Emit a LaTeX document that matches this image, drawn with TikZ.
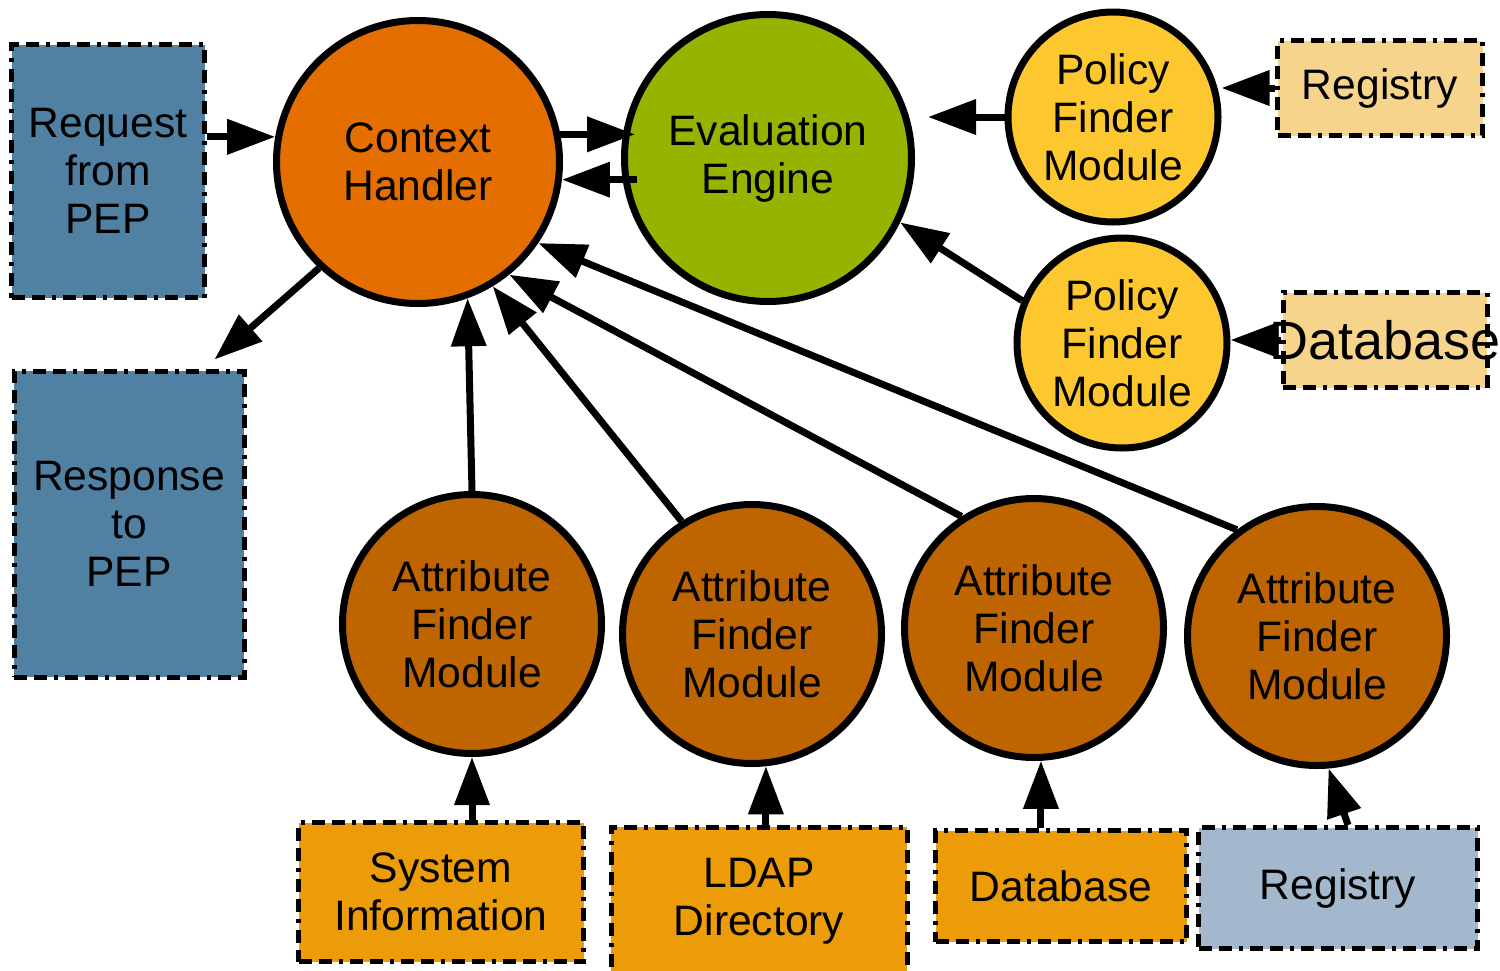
\documentclass[tikz,border=0pt]{standalone}
\usepackage{fontspec}
\setmainfont{Liberation Sans}
\usetikzlibrary{arrows.meta,calc}
\definecolor{pdpSteel}{HTML}{5181A2}
\definecolor{pdpOrange}{HTML}{E56E00}
\definecolor{pdpOlive}{HTML}{96B300}
\definecolor{pdpGold}{HTML}{FDC82F}
\definecolor{pdpSand}{HTML}{F7D48B}
\definecolor{pdpRust}{HTML}{BE6400}
\definecolor{pdpAmber}{HTML}{EC9C09}
\definecolor{pdpSlate}{HTML}{A3B8CC}
\tikzset{
  >={Triangle[length=24pt,width=17pt]},
  lbl/.style={font=\fontsize{21.3}{24}\selectfont, align=center, text=black},
  unit/.style={circle, draw=black, line width=3.5pt, inner sep=0pt, lbl},
  handler/.style={unit, fill=pdpOrange, minimum size=141.5pt},
  engine/.style={unit, fill=pdpOlive, minimum size=143.5pt},
  pfinder/.style={unit, fill=pdpGold, minimum size=105pt},
  afinder/.style={unit, fill=pdpRust, minimum size=129.5pt},
  store/.style={rectangle, draw=black, line width=2.5pt, inner sep=0pt, lbl,
              dash pattern=on 6.5pt off 3.5pt on 6.5pt off 3.5pt on 2pt off 3.5pt},
  pep/.style={store, fill=pdpSteel},
  link/.style={->, line width=3.5pt},
}

\begin{document}
\begin{tikzpicture}[x=0.5pt,y=-0.5pt]
  \useasboundingbox (0,0) rectangle (1500,970);
  % PEP side
  \node[pep,minimum width=96.5pt,minimum height=126.5pt] (req) at (108,171)
    {Request\\from\\PEP};
  \node[pep,minimum width=115pt,minimum height=153pt] (resp) at (129,524)
    {Response\\to\\PEP};
  % PDP core
  \node[handler] (ch) at (418,162) {Context\\Handler};
  \node[engine] (ev) at (768,158) {Evaluation\\Engine};
  \node[pfinder] (pf1) at (1113,117) {Policy\\Finder\\Module};
  \node[pfinder] (pf2) at (1122,343) {Policy\\Finder\\Module};
  \node[store,fill=pdpSand,minimum width=102.5pt,minimum height=47.5pt] (reg1) at (1380,88)
    {Registry};
  \node[store,fill=pdpSand,minimum width=102pt,minimum height=47.5pt,
        font=\fontsize{27}{30}\selectfont] (db1) at (1385,340) {\makebox[0pt]{Database}};
  % attribute finders
  \foreach \i/\x/\y in {1/472/624,2/752/634,3/1034/628,4/1317/636}{
    \node[afinder] (af\i) at (\x,\y) {Attribute\\Finder\\Module};}
  \node[store,fill=pdpAmber,minimum width=142.5pt,minimum height=69.5pt] (sys) at (441,892)
    {System\\Information};
  \node[store,fill=pdpAmber,minimum width=148pt,minimum height=74pt] (ldap) at (759,901)
    {LDAP\\Directory};
  \node[store,fill=pdpAmber,minimum width=125.5pt,minimum height=55.5pt] (db2) at (1061,886)
    {Database};
  \node[store,fill=pdpSlate,minimum width=139.5pt,minimum height=60.5pt] (reg2) at (1338,888)
    {Registry};
  % request / response
  \draw[link] (req.east |- ch.170) -- (ch.170);
  \draw[link] (ch.227) -- ($(resp.north east)+(-32,-9)$);
  % handler <-> engine
  \draw[link] (ch.11) -- ($(ev.west |- ch.11)+(14,0)$);
  \draw[link] ($(ev.west |- ch.-7)+(16,0)$) -- (ch.-7);
  % policy lookup
  \draw[link] (pf1.west) -- ($(ev.east |- pf1.west)+(13,0)$);
  \draw[link] (pf2.157) -- (ev.-26);
  \draw[link] (reg1.west) -- (pf1.east |- reg1.west);
  \draw[link] (db1.west) -- (pf2.east |- db1.west);
  % attribute lookup
  \draw[link] (af1.north) -- (ch.-70);
  \draw[link] (af2.122) -- (ch.-59);
  \draw[link] (af3.123) -- (ch.-51);
  \draw[link] (af4.127) -- (ch.-34);
  \draw[link] (af1.south |- sys.north) -- (af1.south);
  \draw[link] (af2.-84 |- ldap.north) -- (af2.-84);
  \draw[link] (af3.-87 |- db2.north) -- (af3.-87);
  \draw[link] ($(reg2.north)+(10,0)$) -- (af4.-85);
\end{tikzpicture}
\end{document}
